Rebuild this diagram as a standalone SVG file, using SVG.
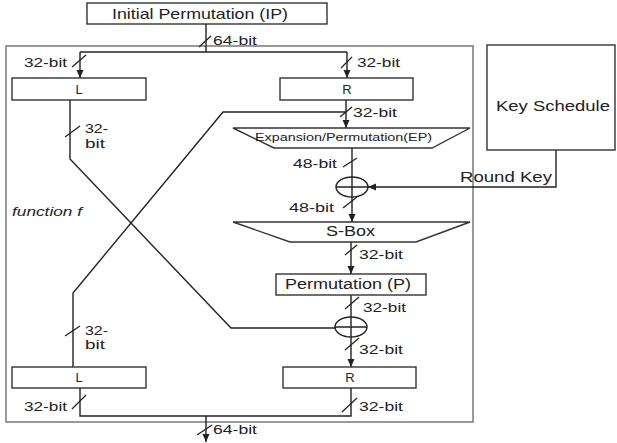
<svg xmlns="http://www.w3.org/2000/svg" width="617" height="443" viewBox="0 0 617 443">
<defs>
<style>
.box{fill:#fff;stroke:#333;stroke-width:1.4}
.ln{fill:none;stroke:#222;stroke-width:1.4}
.sl{fill:none;stroke:#222;stroke-width:1.3}
.frame{fill:none;stroke:#808080;stroke-width:1.6}
text{font-family:"Liberation Sans",Arial,sans-serif;fill:#222}
.lb{font-size:13px}
.bx{font-size:14px}
</style>
<marker id="ah" markerUnits="userSpaceOnUse" markerWidth="9" markerHeight="8" refX="8" refY="3.5" orient="auto">
<path d="M0,0 L8,3.5 L0,7 z" fill="#222"/>
</marker>
</defs>
<rect width="617" height="443" fill="#fff"/>
<rect class="frame" x="6" y="46" width="467" height="376"/>
<text x="12" y="216" style="font-size:13px;font-style:italic" textLength="70" lengthAdjust="spacingAndGlyphs">function f</text>

<g id="connectors">
<path class="ln" d="M206,24 V52"/>
<path class="ln" d="M80,52 H347"/>
<path class="ln" d="M80,52 V78" marker-end="url(#ah)"/>
<path class="ln" d="M347,52 V78" marker-end="url(#ah)"/>
<path class="ln" d="M70,100 V159 L231,328 H336"/>
<path class="ln" d="M346,100 V128" marker-end="url(#ah)"/>
<path class="ln" d="M346,112 H223 L73,293 V367"/>
<path class="ln" d="M352,148 V177"/>
<path class="ln" d="M352,197 V222" marker-end="url(#ah)"/>
<path class="ln" d="M556,150 V187 H368" marker-end="url(#ah)"/>
<path class="ln" d="M351,242 V274" marker-end="url(#ah)"/>
<path class="ln" d="M351,295 V317"/>
<path class="ln" d="M351,337 V367" marker-end="url(#ah)"/>
<path class="ln" d="M80,388 V416 H351 V388"/>
<path class="ln" d="M206,416 V442" marker-end="url(#ah)"/>
<g class="sl">
<path d="M199,47 L211,36"/>
<path d="M72,67 L86,55"/>
<path d="M341,68 L352,57"/>
<path d="M65,137 L80,126"/>
<path d="M340,117 L352,107"/>
<path d="M343,167 L357,158"/>
<path d="M343,208 L357,197"/>
<path d="M345,255 L357,245"/>
<path d="M345,309 L359,297"/>
<path d="M345,350 L359,338"/>
<path d="M65,336 L80,326"/>
<path d="M72,409 L86,395"/>
<path d="M342,412 L357,398"/>
<path d="M197,435 L212,425"/>
</g>
<g class="lb">
<text x="213" y="45" textLength="44" lengthAdjust="spacingAndGlyphs">64-bit</text>
<text x="24" y="67" textLength="43" lengthAdjust="spacingAndGlyphs">32-bit</text>
<text x="357" y="67" textLength="43" lengthAdjust="spacingAndGlyphs">32-bit</text>
<text x="85" y="133" textLength="23" lengthAdjust="spacingAndGlyphs">32-</text>
<text x="85" y="148" textLength="20" lengthAdjust="spacingAndGlyphs">bit</text>
<text x="353" y="117" textLength="44" lengthAdjust="spacingAndGlyphs">32-bit</text>
<text x="293" y="168" textLength="44" lengthAdjust="spacingAndGlyphs">48-bit</text>
<text x="289" y="212" textLength="45" lengthAdjust="spacingAndGlyphs">48-bit</text>
<text x="359" y="259" textLength="44" lengthAdjust="spacingAndGlyphs">32-bit</text>
<text x="363" y="312" textLength="43" lengthAdjust="spacingAndGlyphs">32-bit</text>
<text x="359" y="354" textLength="44" lengthAdjust="spacingAndGlyphs">32-bit</text>
<text x="85" y="335" textLength="23" lengthAdjust="spacingAndGlyphs">32-</text>
<text x="85" y="349" textLength="20" lengthAdjust="spacingAndGlyphs">bit</text>
<text x="24" y="411" textLength="43" lengthAdjust="spacingAndGlyphs">32-bit</text>
<text x="359" y="411" textLength="44" lengthAdjust="spacingAndGlyphs">32-bit</text>
<text x="213" y="434" textLength="44" lengthAdjust="spacingAndGlyphs">64-bit</text>
</g>
<text x="460" y="182" class="bx" textLength="92" lengthAdjust="spacingAndGlyphs">Round Key</text>
</g>

<g id="ip">
<rect class="box" x="87" y="3" width="240" height="21"/>
<text x="112" y="19" style="font-size:15px" textLength="176" lengthAdjust="spacingAndGlyphs">Initial Permutation (IP)</text>
</g>
<g id="l-top">
<rect class="box" x="12" y="78" width="134" height="22"/>
<text x="79" y="94" class="lb" text-anchor="middle">L</text>
</g>
<g id="r-top">
<rect class="box" x="280" y="78" width="133" height="22"/>
<text x="347" y="94" class="lb" text-anchor="middle">R</text>
</g>
<g id="key-schedule">
<rect class="box" x="487" y="45" width="128" height="105"/>
<text x="496" y="111" style="font-size:15px" textLength="114" lengthAdjust="spacingAndGlyphs">Key Schedule</text>
</g>
<g id="ep">
<path class="box" d="M233,128 H470 L432,148 H274 Z"/>
<text x="255" y="141" style="font-size:11.5px" textLength="177" lengthAdjust="spacingAndGlyphs">Expansion/Permutation(EP)</text>
</g>
<g id="xor1">
<ellipse cx="352" cy="187" rx="16" ry="10" fill="none" stroke="#222" stroke-width="1.4"/>
<path class="ln" d="M336,187 H368 M352,177 V197"/>
</g>
<g id="sbox">
<path class="box" d="M233,222 H470 L416,242 H290 Z"/>
<text x="326" y="236" class="bx" textLength="49" lengthAdjust="spacingAndGlyphs">S-Box</text>
</g>
<g id="perm">
<rect class="box" x="276" y="274" width="150" height="21"/>
<text x="285" y="289" class="bx" textLength="126" lengthAdjust="spacingAndGlyphs">Permutation (P)</text>
</g>
<g id="xor2">
<ellipse cx="351" cy="327" rx="16" ry="10" fill="none" stroke="#222" stroke-width="1.4"/>
<path class="ln" d="M335,327 H367 M351,317 V337"/>
</g>
<g id="l-bot">
<rect class="box" x="12" y="367" width="134" height="21"/>
<text x="79" y="382" class="lb" text-anchor="middle">L</text>
</g>
<g id="r-bot">
<rect class="box" x="283" y="367" width="133" height="21"/>
<text x="350" y="382" class="lb" text-anchor="middle">R</text>
</g>
</svg>
